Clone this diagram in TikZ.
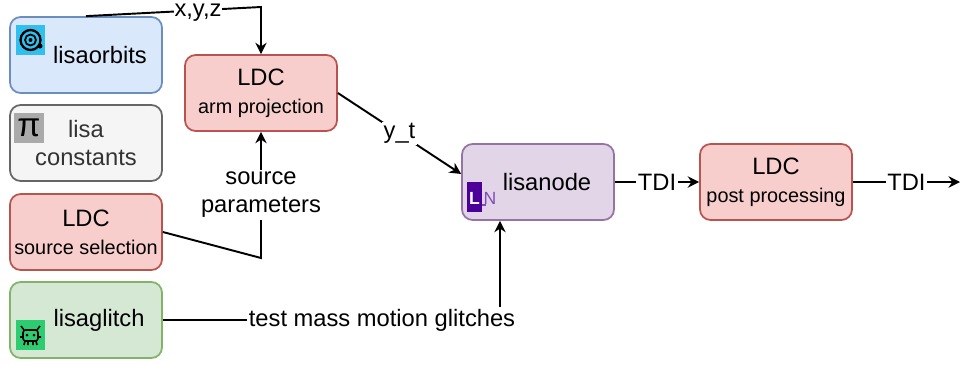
\documentclass[tikz,border=0pt]{standalone}
\usepackage{fontspec}
\setmainfont{Liberation Sans}
\usetikzlibrary{calc,positioning,arrows.meta}

\definecolor{bluefill}{HTML}{DAE8FC}
\definecolor{bluedraw}{HTML}{6C8EBF}
\definecolor{greyfill}{HTML}{F5F5F5}
\definecolor{greydraw}{HTML}{666666}
\definecolor{greytext}{HTML}{333333}
\definecolor{redfill}{HTML}{F8CECC}
\definecolor{reddraw}{HTML}{B85450}
\definecolor{greenfill}{HTML}{D5E8D4}
\definecolor{greendraw}{HTML}{82B366}
\definecolor{purplefill}{HTML}{E1D5E7}
\definecolor{purpledraw}{HTML}{9673A6}
\definecolor{orbiticon}{HTML}{33BFEE}
\definecolor{piicon}{HTML}{AAAAAA}
\definecolor{glitchicon}{HTML}{2ECC71}
\definecolor{nodeicon}{HTML}{4C0099}

\tikzstyle{every node}=[font=\fontsize{13.5}{16}\selectfont]
\tikzstyle{arrow} = [line width=1.1pt,-{Stealth[length=6.5pt,width=6.5pt]}]
\tikzstyle{box} = [draw,rounded corners=6pt,line width=1pt,minimum width=3.04cm,minimum height=1.52cm,align=center,inner sep=0pt]
\tikzstyle{lbl} = [fill=white,inner sep=1pt,align=center]
\newcommand{\subtxt}[1]{{\fontsize{11.3}{14}\selectfont #1}}

\begin{document}
\begin{tikzpicture}[x=0.02cm,y=-0.02cm]

\useasboundingbox (0,0) rectangle (960,365);

% boxes
\node[box,fill=bluefill,draw=bluedraw] (orbits) at (86,55) {\hspace*{0.56cm}lisaorbits};
\node[box,fill=greyfill,draw=greydraw,text=greytext] (constants) at (86,143) {lisa\\constants};
\node[box,fill=redfill,draw=reddraw] (selection) at (86,232) {LDC\\\subtxt{source selection}};
\node[box,fill=greenfill,draw=greendraw] (glitch) at (86,320) {\hspace*{0.52cm}lisaglitch};
\node[box,fill=redfill,draw=reddraw] (armproj) at (261,93) {LDC\\\subtxt{arm projection}};
\node[box,fill=purplefill,draw=purpledraw] (lisanode) at (538,182) {\hspace*{0.36cm}lisanode};
\node[box,fill=redfill,draw=reddraw] (postproc) at (776,182) {LDC\\\subtxt{post processing}};

% icons
\fill[orbiticon] (16,25) rectangle (45,55);
\draw[line width=1.3pt] (30.5,40) circle[radius=0.2cm];
\draw[line width=1pt] (30.5,40) circle[radius=0.11cm];
\fill (30.5,40) circle[radius=0.04cm];
\fill (40,46) circle[radius=0.05cm];

\fill[piicon] (14,113) rectangle (44,143);
\node (pi) at (29,128) {\fontsize{19}{19}\selectfont π};

\fill[glitchicon] (16,320) rectangle (45,350);
\draw[line width=0.9pt,rounded corners=1.5pt] (23,330) rectangle (38,341);
\fill (27,335) circle[radius=0.03cm] (34,335) circle[radius=0.03cm];
\draw[line width=0.9pt] (24,330) -- (21,326) (37,330) -- (40,326)
  (23,337) -- (20,337) (38,337) -- (41,337)
  (25,341) -- (24,345) (36,341) -- (37,345) (28,341) -- (28,345) (33,341) -- (33,345);

\fill[nodeicon] (467,182) rectangle (482,212);
\node[text=white,font=\bfseries\fontsize{10}{10}\selectfont] (ltag) at (474.5,198) {L};
\node[text=nodeicon!70,font=\fontsize{10}{10}\selectfont,inner sep=0pt] (ntag) at (490,198) {N};
\draw[nodeicon!70,line width=0.6pt] (482,205) -- (486,205);

% connectors
\coordinate (top) at (0,7);
\coordinate (xyzturn) at (armproj.north |- top);
\coordinate (selturn) at (261,258);
\coordinate (glitchturn) at (500,320);
\coordinate (out) at (960,182);

\draw[arrow] (orbits.north) -- node[lbl,pos=0.64,inner sep=0.5pt,yshift=-1.5pt] (xyz) {x,y,z} (xyzturn) -- (armproj.north);
\draw[arrow] (armproj.east) -- node[lbl] (yt) {y\_t} ($(lisanode.west)+(0,-8)$);
\draw[arrow] (selection.east) -- (selturn) -- node[lbl] (srcpar) {source\\parameters} (armproj.south);
\draw[arrow] (glitch.east) -- node[lbl,pos=0.65] (tmm) {test mass motion glitches} (glitchturn) -- ($(lisanode.south)+(-38,0)$);
\draw[arrow] (lisanode.east) -- node[lbl] (tdione) {TDI} (postproc.west);
\draw[arrow] (postproc.east) -- node[lbl] (tditwo) {TDI} (out);

\end{tikzpicture}
\end{document}
